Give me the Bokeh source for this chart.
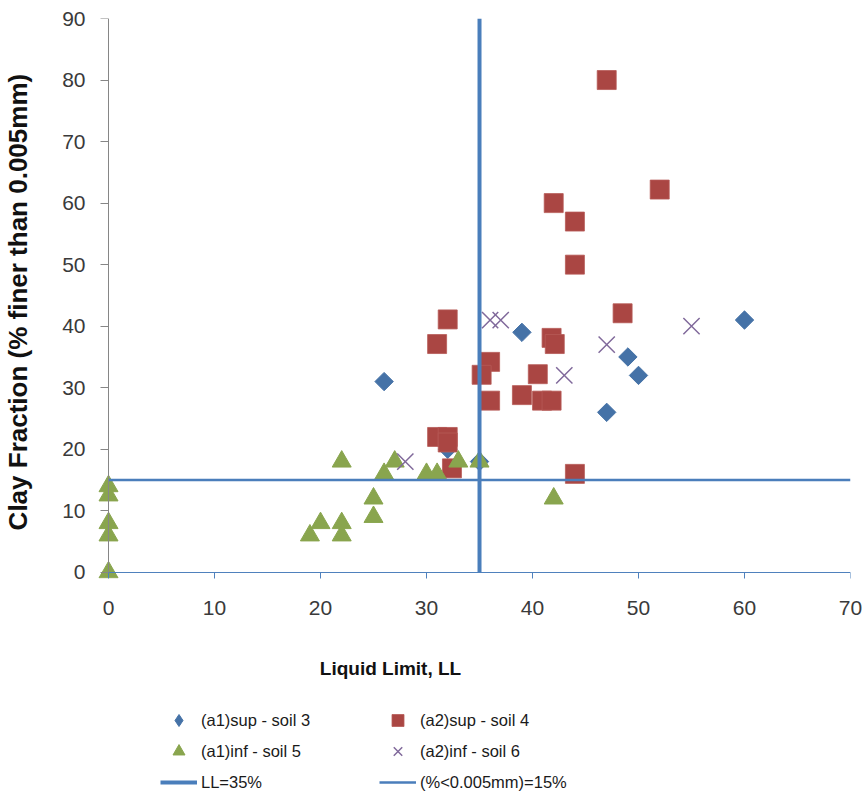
import numpy as np
from bokeh.plotting import figure
from bokeh.layouts import column
from bokeh.models import Range1d, Legend, LegendItem, Label, FixedTicker, LinearAxis
from bokeh.embed import file_html
from bokeh.resources import INLINE

# ---- data ----
soil3_x = [26, 32, 35, 39, 47, 49, 50, 60]
soil3_y = [31, 20, 18, 39, 26, 35, 32, 41]

soil4_x = [47, 52, 42, 44, 44, 48.5, 32, 31, 41.8, 42.1, 36, 35.2, 40.5, 36, 39, 40.9, 41.8, 31, 32, 32, 32.4, 44]
soil4_y = [80, 62.2, 60, 57, 50, 42.1, 41.1, 37.1, 38.1, 37.1, 34.2, 32.1, 32.2, 27.9, 28.8, 27.9, 27.9, 22, 22, 21.1, 16.9, 16]

soil5_x = [0, 0, 0, 0, 0, 19, 20, 22, 22, 22, 25, 25, 26, 27, 30, 31, 33, 35, 42]
soil5_y = [14, 12.5, 8, 6, 0, 6, 8, 8, 6, 18, 12, 9, 16, 18, 16, 16, 18, 18, 12]

soil6_x = [28, 36, 37, 43, 47, 55]
soil6_y = [18, 41, 41, 32, 37, 40]

ll_x = [35, 35]
ll_y = [0, 90]
cf_x = [0, 70]
cf_y = [15, 15]

x_ticks = [0, 10, 20, 30, 40, 50, 60, 70]
y_ticks = [0, 10, 20, 30, 40, 50, 60, 70, 80, 90]

series_names = ["(a1)sup - soil 3", "(a2)sup - soil 4", "(a1)inf - soil 5",
                "(a2)inf - soil 6", "LL=35%", "(%<0.005mm)=15%"]
x_title = "Liquid Limit, LL"
y_title = "Clay Fraction (% finer than  0.005mm)"

FONT = "Liberation Sans"

STYLES = [
    dict(marker="square", angle=np.pi / 4, size=13, fill_color="#4572A7", line_color="#4572A7"),
    dict(marker="square", size=19, fill_color="#AA4643", line_color="#B65A57", line_width=0.8),
    dict(marker="triangle", size=19, fill_color="#89A54E", line_color="#89A54E"),
    dict(marker="x", size=23, line_color="#80699B", line_width=1.5),
]
# legend glyphs (the legend does not rotate markers, so the diamond is drawn directly)
LEGEND_STYLES = [dict(STYLES[0], marker="diamond", angle=0)] + STYLES[1:]
LINE_STYLES = [dict(line_color="#4A7EBB", line_width=4),
               dict(line_color="#4A7EBB", line_width=2.5)]
SERIES_X = [soil3_x, soil4_x, soil5_x, soil6_x]
SERIES_Y = [soil3_y, soil4_y, soil5_y, soil6_y]

p = figure(width=866, height=640, x_range=Range1d(-1.04, 70), y_range=Range1d(-1, 90),
           x_axis_type=None, y_axis_type=None,
           output_backend="svg", toolbar_location=None,
           min_border_left=97, min_border_right=16, min_border_top=18, min_border_bottom=62)
p.outline_line_color = None
p.grid.visible = False
p.background_fill_color = "white"
p.border_fill_color = "white"

# axis lines + ticks, placed at x=0 / y=0
xline = LinearAxis(ticker=FixedTicker(ticks=x_ticks), fixed_location=0, bounds=(0, 70),
                   axis_line_color="#4F81BD", major_tick_line_color="#4F81BD",
                   major_tick_in=0, major_tick_out=10, minor_tick_line_color=None,
                   major_label_text_color=None)
yline = LinearAxis(ticker=FixedTicker(ticks=y_ticks), fixed_location=0, bounds=(0, 90),
                   axis_line_color="#868686", major_tick_line_color="#868686",
                   major_tick_in=0, major_tick_out=8, minor_tick_line_color=None,
                   major_label_text_color=None)
p.add_layout(xline, "below")
p.add_layout(yline, "left")

# tick labels (and y title) in the side panels
xlab = LinearAxis(ticker=FixedTicker(ticks=x_ticks), axis_line_color=None,
                  major_tick_line_color=None, minor_tick_line_color=None,
                  major_tick_in=0, major_tick_out=0, major_label_standoff=22,
                  major_label_text_font=FONT, major_label_text_font_size="21px",
                  major_label_text_color="#3a3a3a")
ylab = LinearAxis(ticker=FixedTicker(ticks=y_ticks), axis_line_color=None,
                  major_tick_line_color=None, minor_tick_line_color=None,
                  major_tick_in=0, major_tick_out=0, major_label_standoff=12,
                  major_label_text_font=FONT, major_label_text_font_size="21px",
                  major_label_text_color="#3a3a3a",
                  axis_label=y_title, axis_label_standoff=26,
                  axis_label_text_font=FONT, axis_label_text_font_style="bold",
                  axis_label_text_font_size="26px", axis_label_text_color="#111111")
p.add_layout(xlab, "below")
p.add_layout(ylab, "left")

# series
for xs, ys, st in zip(SERIES_X, SERIES_Y, STYLES):
    p.scatter(xs, ys, **st)
p.line(ll_x, ll_y, **LINE_STYLES[0])
p.line(cf_x, cf_y, **LINE_STYLES[1])

# lower panel: x title + legend (legend-only proxy renderers, kept outside the visible range)
q = figure(width=866, height=163, x_range=Range1d(1000, 1001), y_range=Range1d(1000, 1001),
           x_axis_type=None, y_axis_type=None, output_backend="svg", toolbar_location=None,
           min_border=0)
q.outline_line_color = None
q.grid.visible = False

xt = Label(x=293, y=135, x_units="screen", y_units="screen", text=x_title,
           text_align="center", text_baseline="middle", text_font=FONT,
           text_font_style="bold", text_font_size="19px", text_color="#111111")
q.add_layout(xt)

proxies = [q.scatter(xs, ys, **st) for xs, ys, st in zip(SERIES_X, SERIES_Y, LEGEND_STYLES)]
proxies += [q.line(ll_x, ll_y, **LINE_STYLES[0]), q.line(cf_x, cf_y, **LINE_STYLES[1])]

legend = Legend(items=[LegendItem(label=n, renderers=[r]) for n, r in zip(series_names, proxies)],
                location=(63, 6), orientation="horizontal", ncols=2,
                glyph_width=37, glyph_height=30, label_standoff=4, label_width=177,
                spacing=1, padding=0, margin=0,
                border_line_color=None, background_fill_alpha=0,
                label_text_font=FONT, label_text_font_size="16.5px",
                label_text_color="#1a1a1a")
q.add_layout(legend)

open("out.html", "w").write(file_html(column(p, q, spacing=0), INLINE))
